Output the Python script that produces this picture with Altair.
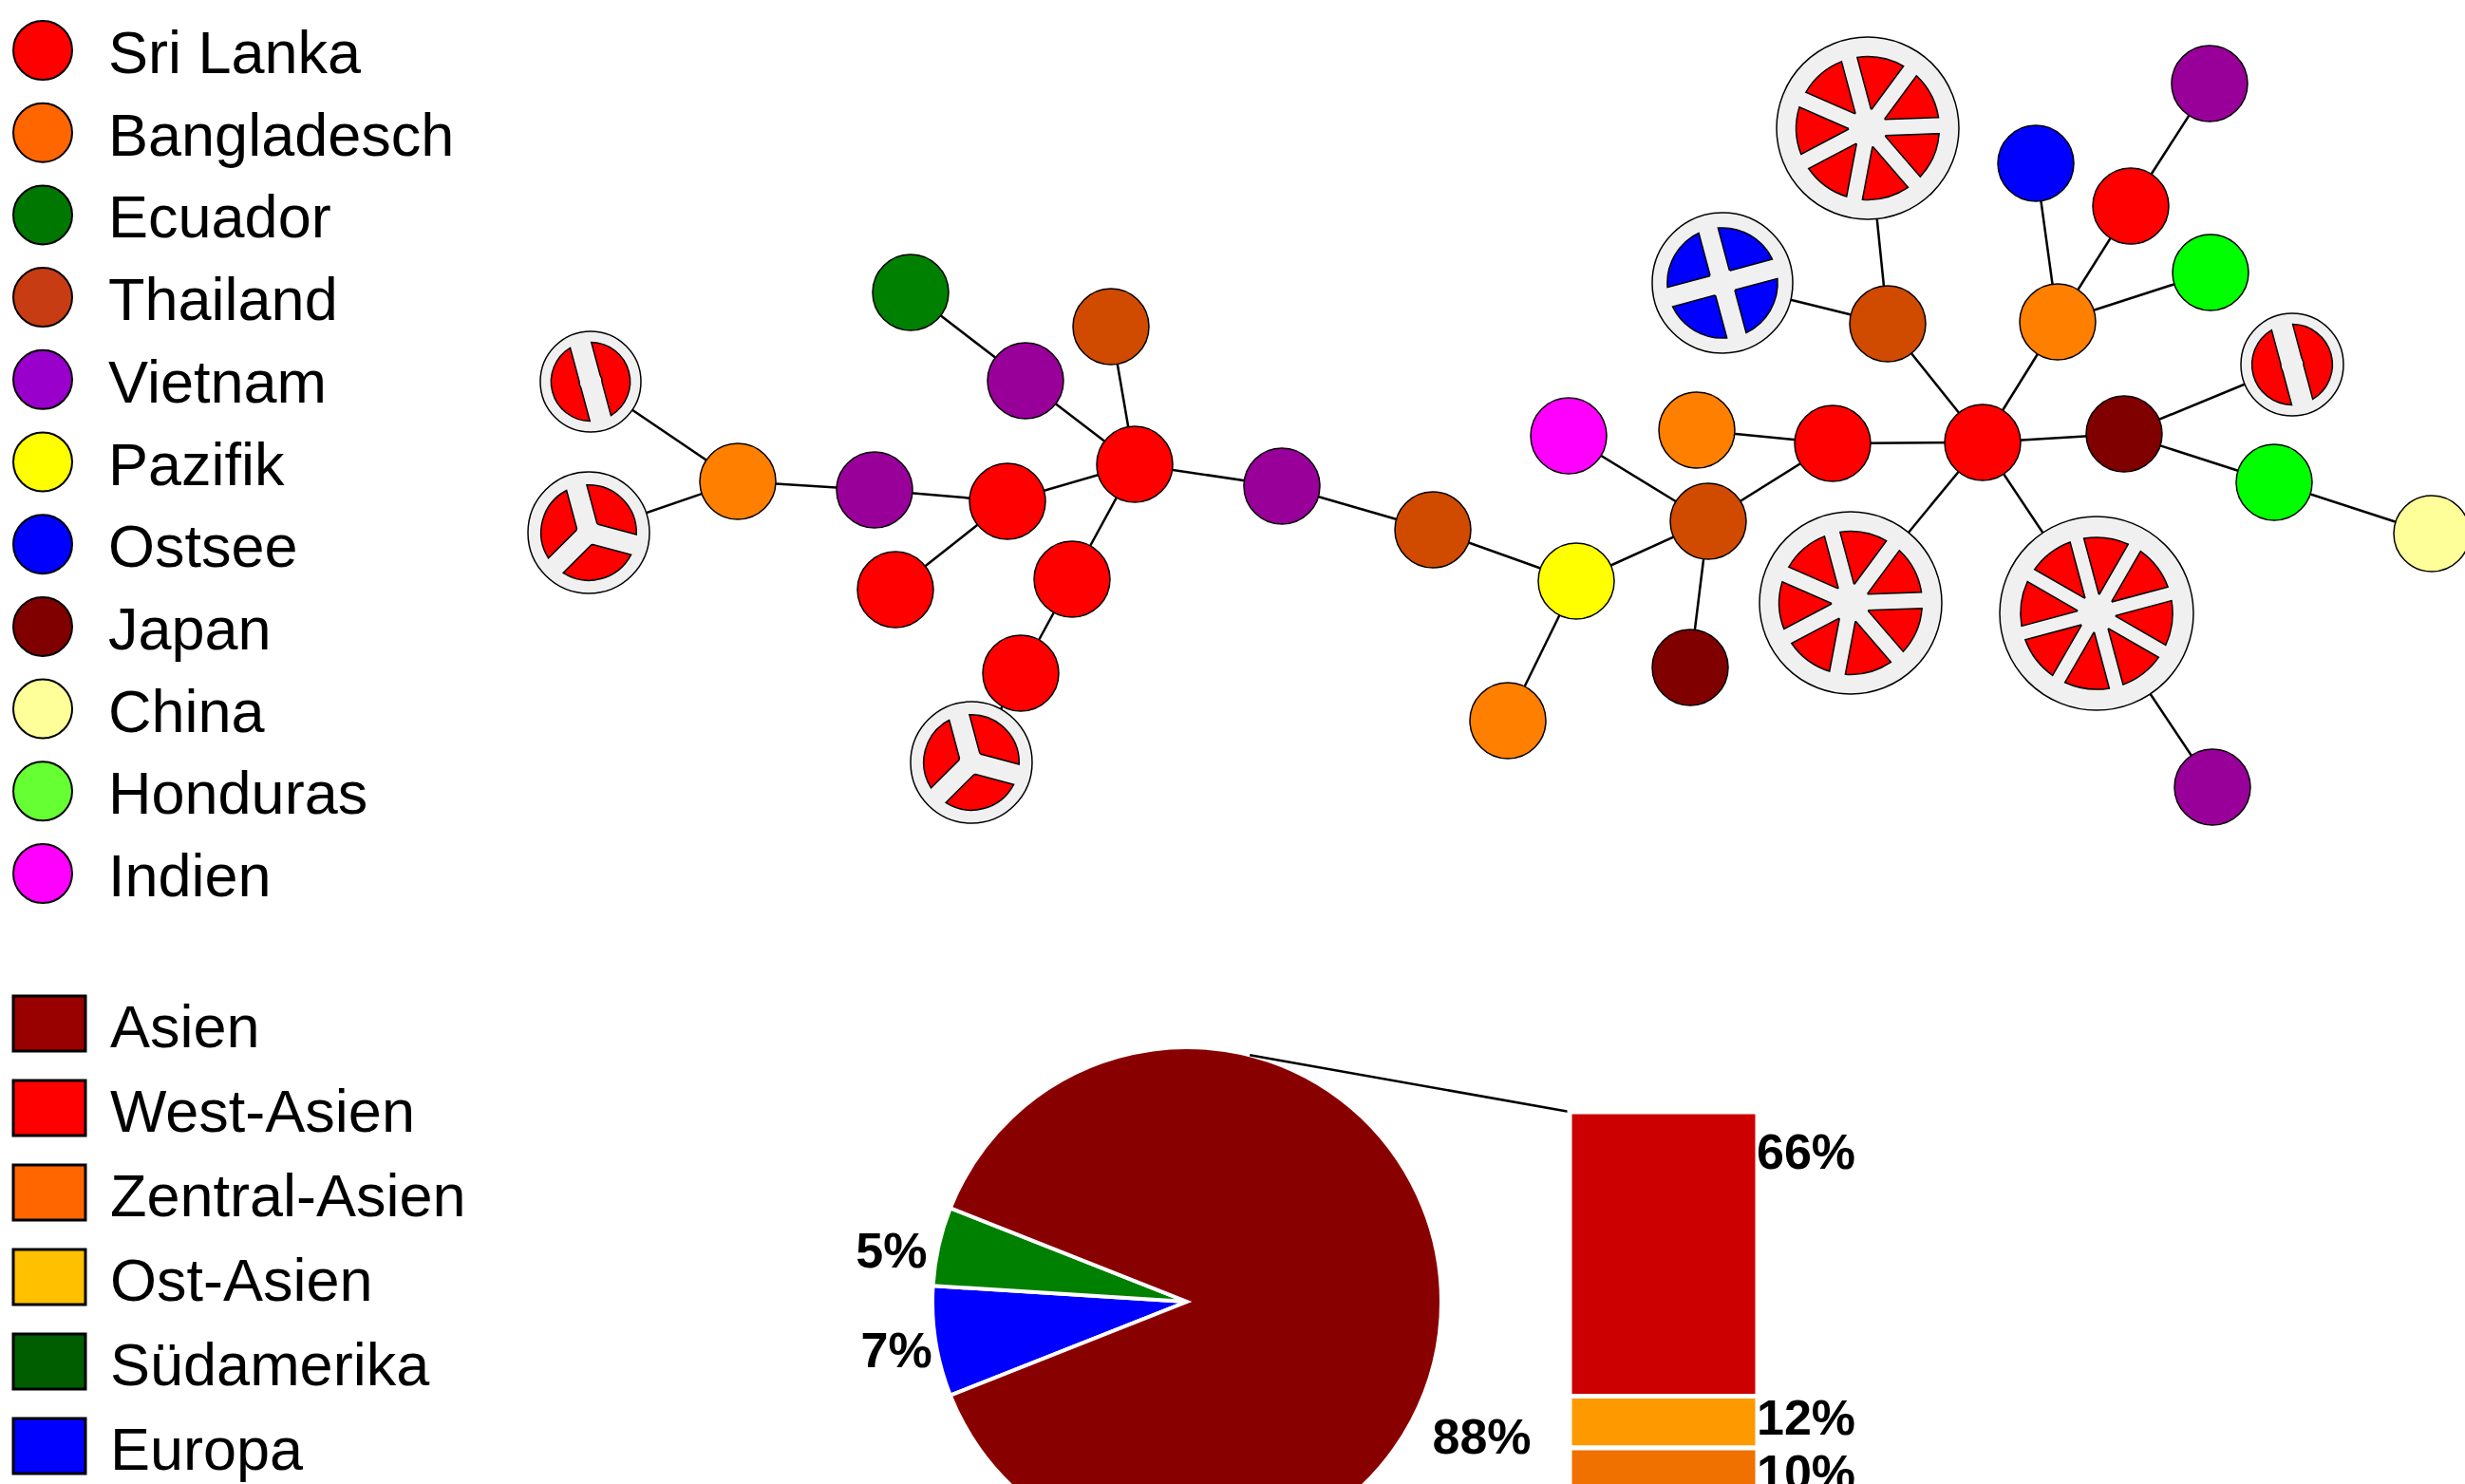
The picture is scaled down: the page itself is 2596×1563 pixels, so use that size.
import math
import altair as alt
import pandas as pd

W, H = 2596, 1563
FONT = "Liberation Sans"

# ---------------- data ----------------
COUNTRIES = ["Sri Lanka", "Bangladesch", "Ecuador", "Thailand", "Vietnam", "Pazifik",
             "Ostsee", "Japan", "China", "Honduras", "Indien"]
LEGEND_COLORS = ["#FF0000", "#FF6600", "#007700", "#C83C14", "#9900CC", "#FFFF00",
                 "#0000FF", "#800000", "#FFFF99", "#66FF33", "#FF00FF"]
NODE_COLORS = ["#FF0000", "#FF7F00", "#008000", "#D04A00", "#990099", "#FFFF00",
               "#0000FF", "#800000", "#FFFF99", "#00FF00", "#FF00FF"]

# haplotype network nodes (position in the drawing, country, number of samples shown as slices)
NODE_X = [622, 620, 777, 921, 1061, 943, 1195, 1080, 959, 1170, 1129, 1075, 1023, 1350, 1509,
          1660, 1588, 1799, 1652, 1780, 1787, 1930, 2088, 1988, 1814, 1967, 2167, 2144, 2244,
          2327, 2328, 2237, 2414, 2395, 2561, 1949, 2208, 2330]
NODE_Y = [402, 561, 507, 516, 528, 621, 489, 401, 308, 344, 610, 709, 803, 512, 558,
          612, 759, 549, 459, 703, 453, 467, 466, 341, 298, 135, 339, 172, 217,
          88, 287, 457, 384, 508, 562, 635, 646, 829]
NODE_COUNTRY = ["Sri Lanka", "Sri Lanka", "Bangladesch", "Vietnam", "Sri Lanka", "Sri Lanka",
                "Sri Lanka", "Vietnam", "Ecuador", "Thailand", "Sri Lanka", "Sri Lanka",
                "Sri Lanka", "Vietnam", "Thailand", "Pazifik", "Bangladesch", "Thailand",
                "Indien", "Japan", "Bangladesch", "Sri Lanka", "Sri Lanka", "Thailand",
                "Ostsee", "Sri Lanka", "Bangladesch", "Ostsee", "Sri Lanka", "Vietnam",
                "Honduras", "Japan", "Sri Lanka", "Honduras", "China", "Sri Lanka",
                "Sri Lanka", "Vietnam"]
NODE_SLICES = [2, 3, 0, 0, 0, 0, 0, 0, 0, 0, 0, 0, 3, 0, 0, 0, 0, 0, 0, 0, 0, 0, 0, 0,
               4, 7, 0, 0, 0, 0, 0, 0, 2, 0, 0, 7, 8, 0]
EDGES = [(1, 3), (2, 3), (3, 4), (4, 5), (5, 6), (5, 7), (7, 8), (8, 9), (7, 10), (7, 11),
         (11, 12), (12, 13), (7, 14), (14, 15), (15, 16), (16, 17), (16, 18), (18, 19),
         (18, 20), (18, 22), (21, 22), (22, 23), (23, 24), (24, 25), (24, 26), (23, 27),
         (27, 28), (27, 29), (29, 30), (27, 31), (23, 32), (32, 33), (32, 34), (34, 35),
         (23, 36), (23, 37), (37, 38)]

REGIONS = ["Asien", "West-Asien", "Zentral-Asien", "Ost-Asien", "Südamerika", "Europa"]
REGION_COLORS = ["#990000", "#FF0000", "#FF6600", "#FFC000", "#005E00", "#0000FF"]

PIE_GROUPS = ["Europa", "Südamerika", "Asien"]
PIE_PCT = [7, 5, 88]
PIE_COLORS = ["#0000FF", "#008000", "#880000"]

BAR_GROUPS = ["West-Asien", "Ost-Asien", "Zentral-Asien"]
BAR_PCT = [66, 12, 10]
BAR_COLORS = ["#CC0000", "#FF9900", "#F07000"]

# ---------------- layout / style ----------------
NODE_R = [53, 64, 40, 40, 40, 40, 40, 40, 40, 40, 40, 40, 64, 40, 40, 40, 40, 40, 40, 40,
          40, 40, 40, 40, 74, 96, 40, 40, 40, 40, 40, 40, 54, 40, 40, 96, 102, 40]
SLICE_START = math.radians(345)
INNER_FRAC = 0.785
GAP = {2: 23, 3: 22, 4: 21, 7: 17, 8: 15}

LEG_X, LEG_TX, LEG_Y0, LEG_STEP, LEG_D = 45, 114, 53, 86.7, 62
REG_X0, REG_X1, REG_Y0, REG_STEP, REG_H, REG_TX = 14, 90, 1078, 89, 58, 116
FS = 63

PIE_CX, PIE_CY, PIE_R = 1250, 1371, 268
PIE_START_DEG = 248.4
PIE_LABEL_DEG = [260.7, 280.0, 114.4]
PIE_LABEL_R = [310, 316, 341]
CONNECT_DEG = 14.3

BAR_X0, BAR_X1, BAR_TOP, BAR_PX_PER_PCT = 1653, 1851, 1171, 4.538
BAR_LABEL_X = 1850
BAR_LABEL_OFF = [9.8, 5.5, 6.2]

X = alt.Scale(domain=[0, W], range=[0, W], zero=False, nice=False)
Y = alt.Scale(domain=[0, H], range=[0, H], zero=False, nice=False)


def xq(f):
    return alt.X(f, type="quantitative", scale=X, axis=None)


def yq(f):
    return alt.Y(f, type="quantitative", scale=Y, axis=None)


# ---------------- network ----------------
edge_df = pd.DataFrame([{"x1": NODE_X[a - 1], "y1": NODE_Y[a - 1],
                         "x2": NODE_X[b - 1], "y2": NODE_Y[b - 1]} for a, b in EDGES])
edges = alt.Chart(edge_df).mark_rule(color="black", strokeWidth=2.5).encode(
    x=xq("x1"), y=yq("y1"), x2="x2:Q", y2="y2:Q")

node_color = dict(zip(COUNTRIES, NODE_COLORS))
node_df = pd.DataFrame({"x": NODE_X, "y": NODE_Y, "country": NODE_COUNTRY,
                        "slices": NODE_SLICES, "r": NODE_R})
node_df["fill"] = node_df["country"].map(node_color)
node_df["size"] = (2 * node_df["r"]) ** 2

simple = alt.Chart(node_df[node_df["slices"] == 0]).mark_point(
    shape="circle", filled=True, opacity=1, stroke="black", strokeWidth=1.5).encode(
    x=xq("x"), y=yq("y"), fill=alt.Fill("fill:N", scale=None),
    size=alt.Size("size:Q", scale=None))

pie_nodes = node_df[node_df["slices"] > 0]
rings = alt.Chart(pie_nodes).mark_point(
    shape="circle", filled=True, opacity=1, fill="#F0F0F0", stroke="black",
    strokeWidth=1.5).encode(x=xq("x"), y=yq("y"), size=alt.Size("size:Q", scale=None))

slice_layers = []
for _, nd in pie_nodes.iterrows():
    n = int(nd["slices"])
    r1 = INNER_FRAC * nd["r"]
    hw = GAP[n] / 2
    r0 = hw / math.sin(math.pi / n) * 1.05
    rp = math.hypot(r0, r1)
    pad = 2 * math.asin(hw / rp)
    step = 2 * math.pi / n
    rows = [{"x": nd["x"], "y": nd["y"], "t0": SLICE_START + k * step,
             "t1": SLICE_START + (k + 1) * step, "r1": r1, "r0": r0,
             "fill": nd["fill"]} for k in range(n)]
    slice_layers.append(
        alt.Chart(pd.DataFrame(rows)).mark_arc(
            padAngle=pad, stroke="black", strokeWidth=1.5).encode(
            x=xq("x"), y=yq("y"),
            theta=alt.Theta("t0:Q", scale=None, stack=None), theta2="t1:Q",
            radius=alt.Radius("r1:Q", scale=None), radius2="r0:Q",
            fill=alt.Fill("fill:N", scale=None)))

# ---------------- legends ----------------
leg_df = pd.DataFrame({"name": COUNTRIES, "fill": LEGEND_COLORS})
leg_df["x"] = LEG_X
leg_df["tx"] = LEG_TX
leg_df["y"] = LEG_Y0 + leg_df.index * LEG_STEP
leg_df["size"] = LEG_D ** 2
leg_circles = alt.Chart(leg_df).mark_point(
    shape="circle", filled=True, opacity=1, stroke="black", strokeWidth=2).encode(
    x=xq("x"), y=yq("y"), fill=alt.Fill("fill:N", scale=None),
    size=alt.Size("size:Q", scale=None))
leg_text = alt.Chart(leg_df).mark_text(
    align="left", baseline="middle", font=FONT, fontSize=FS, dy=5, color="black").encode(
    x=xq("tx"), y=yq("y"), text="name:N")

reg_df = pd.DataFrame({"name": REGIONS, "fill": REGION_COLORS})
reg_df["yc"] = REG_Y0 + reg_df.index * REG_STEP
reg_df["y0"] = reg_df["yc"] - REG_H / 2
reg_df["y1"] = reg_df["yc"] + REG_H / 2
reg_df["x0"] = REG_X0
reg_df["x1"] = REG_X1
reg_df["tx"] = REG_TX
reg_rects = alt.Chart(reg_df).mark_rect(stroke="black", strokeWidth=3).encode(
    x=xq("x0"), x2="x1:Q", y=yq("y0"), y2="y1:Q", fill=alt.Fill("fill:N", scale=None))
reg_text = alt.Chart(reg_df).mark_text(
    align="left", baseline="middle", font=FONT, fontSize=FS, dy=6, color="black").encode(
    x=xq("tx"), y=yq("yc"), text="name:N")

# ---------------- pie chart ----------------
pie_df = pd.DataFrame({"group": PIE_GROUPS, "pct": PIE_PCT, "fill": PIE_COLORS})
cum = pie_df["pct"].cumsum()
start = math.radians(PIE_START_DEG)
pie_df["t0"] = start + (cum - pie_df["pct"]) / 100 * 2 * math.pi
pie_df["t1"] = start + cum / 100 * 2 * math.pi
pie_df["cx"] = PIE_CX
pie_df["cy"] = PIE_CY
pie_df["r"] = PIE_R
pie_df["label"] = pie_df["pct"].astype(str) + "%"
pie_df["lt"] = [math.radians(d) for d in PIE_LABEL_DEG]
pie_df["lr"] = PIE_LABEL_R

pie = alt.Chart(pie_df).mark_arc(stroke="white", strokeWidth=4).encode(
    x=xq("cx"), y=yq("cy"),
    theta=alt.Theta("t0:Q", scale=None, stack=None), theta2="t1:Q",
    radius=alt.Radius("r:Q", scale=None), fill=alt.Fill("fill:N", scale=None))
pie_labels = alt.Chart(pie_df).mark_text(
    font=FONT, fontSize=52, fontWeight="bold", align="center", baseline="middle",
    dy=3, color="black").encode(
    x=xq("cx"), y=yq("cy"),
    theta=alt.Theta("lt:Q", scale=None, stack=None),
    radius=alt.Radius("lr:Q", scale=None), text="label:N")

ca = math.radians(CONNECT_DEG)
conn_df = pd.DataFrame([{"x1": PIE_CX + PIE_R * math.sin(ca),
                         "y1": PIE_CY - PIE_R * math.cos(ca),
                         "x2": BAR_X0, "y2": BAR_TOP}])
connector = alt.Chart(conn_df).mark_rule(color="black", strokeWidth=2.5).encode(
    x=xq("x1"), y=yq("y1"), x2="x2:Q", y2="y2:Q")

# ---------------- stacked bar (breakdown of Asien) ----------------
bar_df = pd.DataFrame({"group": BAR_GROUPS, "pct": BAR_PCT, "fill": BAR_COLORS})
bar_df["p1"] = bar_df["pct"].cumsum()
bar_df["p0"] = bar_df["p1"] - bar_df["pct"]
bar_df["x0"] = BAR_X0
bar_df["x1"] = BAR_X1
bar_df["lx"] = BAR_LABEL_X
bar_df["ly"] = bar_df["p0"] + pd.Series(BAR_LABEL_OFF)
bar_df["label"] = bar_df["pct"].astype(str) + "%"
total = float(sum(BAR_PCT))
BY = alt.Scale(domain=[0, total], range=[BAR_TOP, BAR_TOP + total * BAR_PX_PER_PCT],
               zero=False, nice=False)
bar = alt.Chart(bar_df).mark_rect(stroke="white", strokeWidth=5).encode(
    x=xq("x0"), x2="x1:Q", y=alt.Y("p0:Q", scale=BY, axis=None), y2="p1:Q",
    fill=alt.Fill("fill:N", scale=None))
bar_labels = alt.Chart(bar_df).mark_text(
    font=FONT, fontSize=52, fontWeight="bold", align="left", baseline="middle",
    color="black").encode(
    x=xq("lx"), y=alt.Y("ly:Q", scale=BY, axis=None), text="label:N")

chart = alt.layer(
    edges, simple, rings, *slice_layers,
    leg_circles, leg_text, reg_rects, reg_text,
    pie, pie_labels, connector, bar, bar_labels,
).resolve_scale(y="independent").properties(
    width=W, height=H, padding=0, background="white",
    autosize=alt.AutoSizeParams(type="none"),
).configure_view(stroke=None)

chart.save("out.html", embed_options={"renderer": "svg", "actions": False})
